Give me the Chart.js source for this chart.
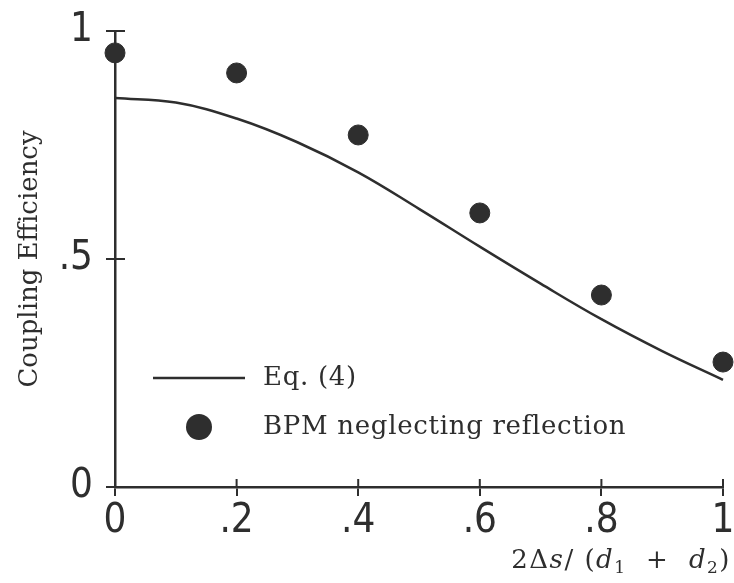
<!DOCTYPE html>
<html>
<head>
<meta charset="utf-8">
<script src="https://cdn.jsdelivr.net/npm/chart.js@4.4.1/dist/chart.umd.min.js"></script>
<style>
  html, body { margin: 0; padding: 0; background: #fff; }
  #wrap { width: 734px; height: 583px; }
</style>
</head>
<body>
<div id="wrap"><canvas id="chart"></canvas></div>
<script>
// Eq. (4) curve
const curveX = [0, 0.1, 0.2, 0.3, 0.4, 0.5, 0.6, 0.7, 0.8, 0.9, 1.0];
const curveY = [0.853, 0.843, 0.808, 0.756, 0.690, 0.610, 0.527, 0.446, 0.368, 0.298, 0.235];

// BPM points (neglecting reflection)
const bpmX = [0, 0.2, 0.4, 0.6, 0.8, 1.0];
const bpmY = [0.952, 0.908, 0.772, 0.601, 0.421, 0.274];

const legendLabels = ["Eq. (4)", "BPM neglecting reflection"];
const yTitle = "Coupling Efficiency";
// x title pieces: [text, style]
const xTitleParts = [
  ["2\u0394", "n"], ["s", "i"], ["/ (", "n"], ["d", "i"], ["1", "sub"],
  ["  +  ", "n"], ["d", "i"], ["2", "sub"], [")", "n"]
];

const ink = "#2e2e2e";
const tickFont = "'Liberation Sans Narrow', 'DejaVu Sans Condensed', 'Liberation Sans', sans-serif";
const serif = "'DejaVu Serif', 'Liberation Serif', serif";

const fmt = (v) => {
  if (v === 0) return "0";
  if (v === 1) return "1";
  return "." + Math.round(v * 10);
};

// inner halves of the tick marks, the legend and the x title
const extras = {
  id: "extras",
  afterDraw(chart) {
    const { ctx, chartArea, scales } = chart;
    ctx.save();
    ctx.strokeStyle = ink;
    ctx.lineWidth = 2;
    scales.x.ticks.forEach((t) => {
      const px = scales.x.getPixelForValue(t.value);
      ctx.beginPath();
      ctx.moveTo(px, chartArea.bottom);
      ctx.lineTo(px, chartArea.bottom - 8);
      ctx.stroke();
    });
    scales.y.ticks.forEach((t) => {
      if (t.value === 0) return;
      const py = scales.y.getPixelForValue(t.value);
      ctx.beginPath();
      ctx.moveTo(chartArea.left, py);
      ctx.lineTo(chartArea.left + 10, py);
      ctx.stroke();
    });

    // legend
    ctx.lineWidth = 2.5;
    ctx.beginPath();
    ctx.moveTo(153, 378);
    ctx.lineTo(245, 378);
    ctx.stroke();
    ctx.fillStyle = ink;
    ctx.beginPath();
    ctx.arc(199, 427, 13, 0, Math.PI * 2);
    ctx.fill();
    ctx.font = "26px " + serif;
    ctx.letterSpacing = "0.7px";
    ctx.textBaseline = "middle";
    ctx.fillText(legendLabels[0], 263, 378);
    ctx.fillText(legendLabels[1], 263, 427);

    // x title, right aligned under the axis end
    const fonts = { n: "26px " + serif, i: "italic 26px " + serif, sub: "17px " + serif };
    ctx.letterSpacing = "1.5px";
    ctx.textBaseline = "alphabetic";
    let total = 0;
    xTitleParts.forEach(([s, k]) => { ctx.font = fonts[k]; total += ctx.measureText(s).width; });
    let x = 731 - total;
    xTitleParts.forEach(([s, k]) => {
      ctx.font = fonts[k];
      ctx.fillText(s, x, k === "sub" ? 573 : 568);
      x += ctx.measureText(s).width;
    });
    ctx.restore();
  }
};

new Chart(document.getElementById("chart"), {
  type: "scatter",
  data: {
    datasets: [
      {
        type: "line",
        label: legendLabels[0],
        data: curveX.map((x, i) => ({ x: x, y: curveY[i] })),
        borderColor: ink,
        borderWidth: 2.5,
        pointRadius: 0,
        tension: 0.4,
        fill: false,
        clip: false
      },
      {
        label: legendLabels[1],
        data: bpmX.map((x, i) => ({ x: x, y: bpmY[i] })),
        backgroundColor: ink,
        borderColor: ink,
        pointRadius: 10,
        clip: false
      }
    ]
  },
  options: {
    responsive: true,
    maintainAspectRatio: false,
    animation: false,
    layout: { padding: { top: 31, right: 3, left: 0, bottom: 0 } },
    plugins: { legend: { display: false }, tooltip: { enabled: false } },
    scales: {
      x: {
        type: "linear",
        min: 0,
        max: 1,
        border: { color: ink, width: 2.5 },
        grid: { drawOnChartArea: false, tickLength: 9, color: ink, lineWidth: 2 },
        ticks: {
          stepSize: 0.2,
          color: ink,
          padding: 2,
          font: { family: tickFont, size: 40 },
          callback: fmt
        },
        afterFit: (s) => { s.height = 96; s.paddingLeft = 0; s.paddingRight = 0; }
      },
      y: {
        min: 0,
        max: 1,
        border: { color: ink, width: 2.5 },
        grid: { drawOnChartArea: false, tickLength: 9, color: ink, lineWidth: 2 },
        ticks: {
          stepSize: 0.5,
          color: ink,
          padding: 13,
          font: { family: tickFont, size: 40 },
          callback: fmt
        },
        title: {
          display: true,
          text: yTitle,
          color: ink,
          font: { family: serif, size: 26 },
          padding: { top: 15, bottom: 0 }
        },
        afterFit: (s) => { s.width = 115; s.paddingTop = 0; s.paddingBottom = 0; }
      }
    }
  },
  plugins: [extras]
});
</script>
</body>
</html>
